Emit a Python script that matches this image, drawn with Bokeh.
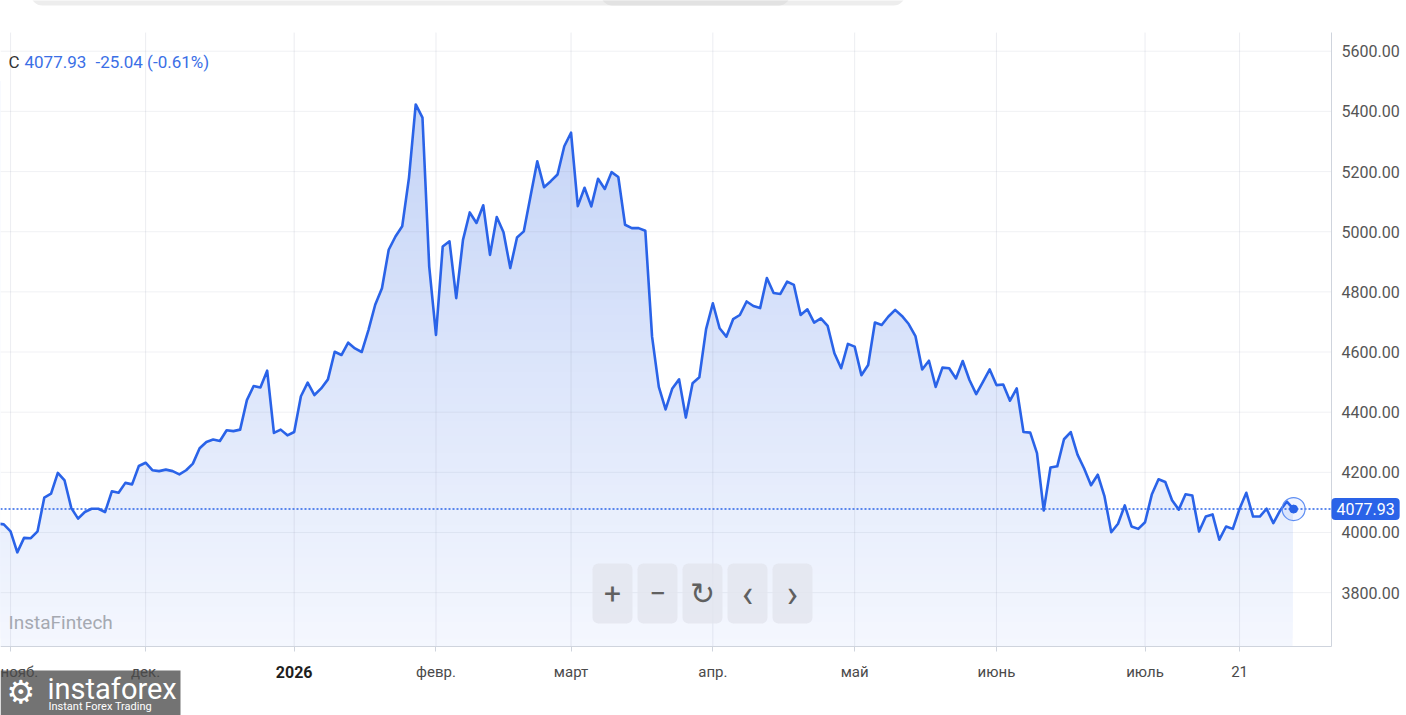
import numpy as np
from bokeh.plotting import figure
from bokeh.models import Range1d, Label, BoxAnnotation, FixedTicker, PrintfTickFormatter, LinearAxis
from bokeh.embed import file_html
from bokeh.resources import INLINE

# ---- data ----
close = [
    4030, 4027, 4004, 3934, 3982, 3981, 4004, 4116, 4129, 4198, 4173,
    4081, 4046, 4068, 4079, 4079, 4068, 4137, 4132, 4165, 4160,
    4221, 4232, 4207, 4204, 4209, 4204, 4193, 4207, 4229, 4280,
    4301, 4309, 4304, 4340, 4337, 4342, 4440, 4487, 4482, 4538,
    4331, 4342, 4323, 4334, 4453, 4498, 4457, 4479, 4509, 4601,
    4590, 4631, 4612, 4600, 4673, 4757, 4812, 4940, 4984, 5018,
    5179, 5423, 5379, 4884, 4657, 4951, 4968, 4779, 4973, 5064,
    5029, 5088, 4923, 5049, 4998, 4879, 4981, 5001, 5118, 5234,
    5148, 5168, 5190, 5284, 5329, 5085, 5146, 5084, 5176, 5142,
    5198, 5182, 5023, 5012, 5012, 5003, 4651, 4484, 4409, 4479,
    4509, 4382, 4496, 4516, 4676, 4762, 4679, 4651, 4709, 4723,
    4768, 4753, 4746, 4846, 4796, 4793, 4834, 4823, 4723, 4742,
    4698, 4712, 4687, 4596, 4546, 4627, 4618, 4523, 4557, 4698,
    4690, 4718, 4740, 4720, 4693, 4653, 4542, 4571, 4484, 4548,
    4546, 4512, 4570, 4507, 4460, 4501, 4542, 4490, 4492, 4438,
    4479, 4334, 4332, 4264, 4073, 4216, 4220, 4310, 4334, 4259,
    4212, 4157, 4192, 4120, 4001, 4029, 4090, 4020, 4012, 4034,
    4126, 4177, 4168, 4107, 4076, 4127, 4123, 4003, 4053, 4060,
    3976, 4020, 4012, 4079, 4132, 4053, 4053, 4079, 4031, 4073,
    4102.97, 4077.93,
]
tick_idx = [2, 22, 44, 65, 85, 106, 127, 148, 170, 184]
tick_labels = ["нояб.", "дек.", "2026", "февр.", "март", "апр.", "май", "июнь", "июль", "21"]
bold_tick = "2026"
y_ticks = [3800, 4000, 4200, 4400, 4600, 4800, 5000, 5200, 5400, 5600]
last_close = close[-1]
change = -25.04
change_pct = -0.61

# ---- layout / styling ----
W, H = 1406, 715
LINE = "#2a63e8"
FONT = "Roboto"
X0, X1 = 0.5113, 208.72      # whole canvas, horizontally
Y0, Y1 = 3391.6, 5768.6      # whole canvas, vertically
XA = 197.61                  # where the price axis sits
YA = 3621.0                  # where the time axis sits
YT = 5662.0                  # top of the plotting area

x = np.arange(len(close))
yv = np.array(close, dtype=float)

p = figure(width=W, height=H, x_range=Range1d(X0, X1), y_range=Range1d(Y0, Y1),
           x_axis_location=None, y_axis_location=None, toolbar_location=None,
           output_backend="svg", min_border=0)
p.outline_line_color = None
p.background_fill_color = "white"
p.border_fill_color = "white"
p.xgrid.visible = False
p.ygrid.visible = False

# gradient area (nested bands, then white mask above the curve)
nb = 70
edges = np.linspace(YA, 5500, nb + 1)
top_rgb = np.array([190, 207, 246])
bot_rgb = np.array([244, 247, 254])
cols = []
for k in range(nb):
    t = (edges[k] - YA) / (YT - YA)
    c = bot_rgb + (top_rgb - bot_rgb) * t
    cols.append("#%02x%02x%02x" % tuple(int(round(v)) for v in c))
p.quad(left=x[0], right=x[-1] - 0.15, bottom=edges[:-1], top=5500, fill_color=cols, line_color=None)
for _ in range(3):
    p.varea(x=x, y1=yv, y2=YT + 400, fill_color="white", fill_alpha=1.0)

# grid lines drawn above the fill
p.segment(x0=tick_idx, x1=tick_idx, y0=YA, y1=YT, line_color="#8c96aa", line_alpha=0.17, line_width=1)
p.segment(x0=X0, x1=XA, y0=y_ticks, y1=y_ticks, line_color="#8c96aa", line_alpha=0.13, line_width=1)

# last value guide line
p.segment(x0=[X0], x1=[XA], y0=[last_close], y1=[last_close], line_color=LINE,
          line_dash="2 2", line_width=1.5)

# price line
p.line(x, yv, line_color=LINE, line_width=2.6, line_join="round")

# last value markers
p.scatter([x[-1]], [last_close], size=23, fill_color="#2962ff", fill_alpha=0.07,
          line_color="#5f8ef2", line_width=1.2)
p.scatter([x[-1]], [last_close], size=8, fill_color=LINE, line_color=LINE)

# axes (fixed inside the canvas)
xa = LinearAxis(fixed_location=YA, bounds=(X0, XA))
xa.ticker = FixedTicker(ticks=tick_idx)
xa.major_label_overrides = {t: (" " if l == bold_tick else l) for t, l in zip(tick_idx, tick_labels)}
xa.axis_line_color = "#cfd4dd"
xa.major_tick_line_color = "#cfd4dd"
xa.major_tick_out = 5
xa.major_tick_in = 0
xa.minor_tick_line_color = None
xa.major_label_text_font = FONT
xa.major_label_text_font_size = "15px"
xa.major_label_text_color = "#4a4a4a"
xa.major_label_standoff = 12
p.add_layout(xa, "below")

ya = LinearAxis(fixed_location=XA, bounds=(YA, YT))
ya.ticker = FixedTicker(ticks=y_ticks)
ya.formatter = PrintfTickFormatter(format="%.2f")
ya.axis_line_color = "#cfd4dd"
ya.major_tick_out = 0
ya.major_tick_in = 0
ya.minor_tick_line_color = None
ya.major_label_text_font = FONT
ya.major_label_text_font_size = "16px"
ya.major_label_text_color = "#555555"
ya.major_label_standoff = 10
p.add_layout(ya, "right")

for t, l in zip(tick_idx, tick_labels):
    if l == bold_tick:
        p.add_layout(Label(x=t, y=H - 671, x_units="data", y_units="screen", text=l,
                           text_align="center", text_baseline="middle", text_font=FONT,
                           text_font_size="16px", text_font_style="bold", text_color="#1e1e1e"))

# price badge on the axis
p.add_layout(Label(x=XA, y=last_close, x_units="data", y_units="data", text=f"{last_close:.2f}",
                   text_align="left", text_baseline="middle", text_font=FONT, text_font_size="16px",
                   text_color="white", background_fill_color=LINE, padding=5, border_radius=4))

# top scroll bar remnant
p.add_layout(BoxAnnotation(left=30, right=905, bottom=H - 5, top=H + 20,
                           left_units="screen", right_units="screen", top_units="screen",
                           bottom_units="screen", fill_color="#ededed", fill_alpha=1.0,
                           line_color=None, border_radius=12))
p.add_layout(BoxAnnotation(left=600, right=790, bottom=H - 5, top=H + 20,
                           left_units="screen", right_units="screen", top_units="screen",
                           bottom_units="screen", fill_color="#e2e2e2", fill_alpha=1.0,
                           line_color=None, border_radius=12))

# legend text
p.add_layout(Label(x=8, y=H - 61, x_units="screen", y_units="screen", text="C", text_font=FONT,
                   text_font_size="17px", text_color="#333333", text_baseline="middle"))
p.add_layout(Label(x=24, y=H - 61, x_units="screen", y_units="screen", text=f"{last_close:.2f}",
                   text_font=FONT, text_font_size="17px", text_color="#3b6fe6", text_baseline="middle"))
p.add_layout(Label(x=95, y=H - 61, x_units="screen", y_units="screen",
                   text=f"{change:.2f} ({change_pct:.2f}%)",
                   text_font=FONT, text_font_size="17px", text_color="#3b6fe6", text_baseline="middle"))

# watermark
p.add_layout(Label(x=8, y=H - 622, x_units="screen", y_units="screen", text="InstaFintech", text_font=FONT,
                   text_font_size="19px", text_color="#a5a9b1", text_baseline="middle"))

# navigation buttons
btn_syms = ["+", "−", "↻", "‹", "›"]
btn_fonts = [FONT, FONT, "DejaVu Sans", FONT, FONT]
btn_sizes = ["30px", "30px", "30px", "38px", "38px"]
for k, s in enumerate(btn_syms):
    left = 592 + 45 * k
    p.add_layout(BoxAnnotation(left=left, right=left + 40, bottom=H - 623, top=H - 563,
                               left_units="screen", right_units="screen",
                               top_units="screen", bottom_units="screen",
                               fill_color="#e2e5ed", fill_alpha=0.8, line_color=None, border_radius=6))
    p.add_layout(Label(x=left + 20, y=H - 593, x_units="screen", y_units="screen", text=s,
                       text_align="center", text_baseline="middle", text_font=btn_fonts[k],
                       text_font_size=btn_sizes[k], text_color="#606060"))

# logo
p.add_layout(BoxAnnotation(left=0, right=180, bottom=-5, top=H - 670, level="underlay",
                           left_units="screen", right_units="screen", top_units="screen",
                           bottom_units="screen", fill_color="#6c6c6c", fill_alpha=0.95,
                           line_color=None))
p.add_layout(Label(x=47, y=H - 688, x_units="screen", y_units="screen", text="instaforex",
                   text_align="left", text_baseline="middle", text_font=FONT, text_font_size="29px",
                   text_color="white"))
p.add_layout(Label(x=48, y=H - 706, x_units="screen", y_units="screen", text="Instant Forex Trading",
                   text_align="left", text_baseline="middle", text_font=FONT, text_font_size="11px",
                   text_color="white"))
p.add_layout(Label(x=6, y=H - 691, x_units="screen", y_units="screen", text="⚙",
                   text_align="left", text_baseline="middle", text_font="DejaVu Sans", text_font_size="32px",
                   text_color="white"))

open("out.html", "w").write(file_html(p, INLINE))
